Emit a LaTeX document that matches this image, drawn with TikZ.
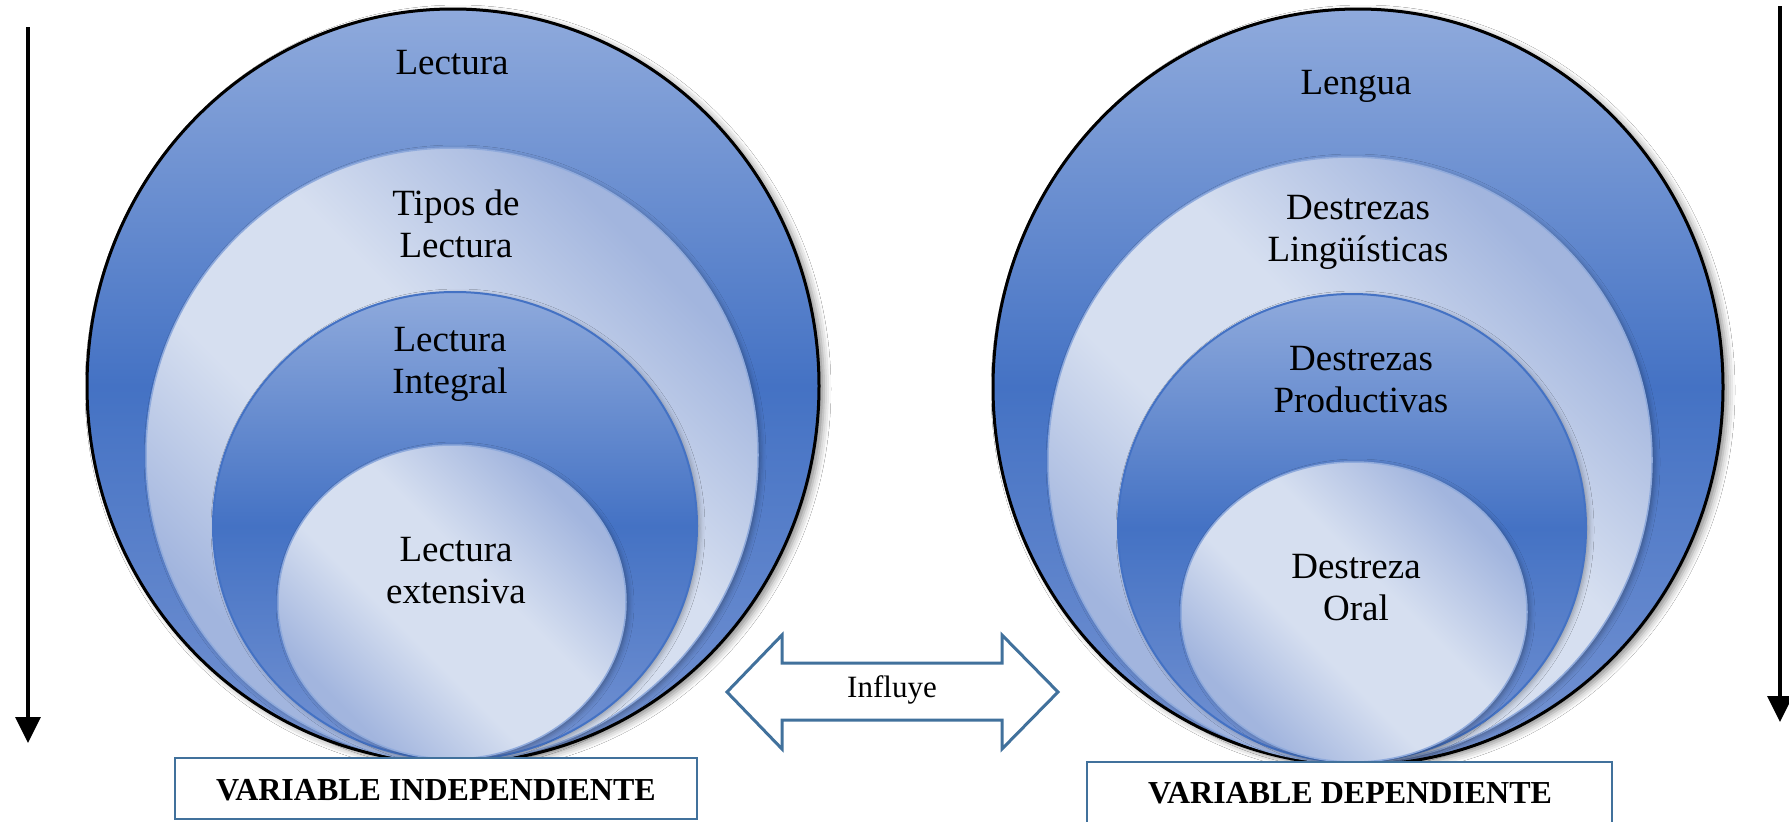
\documentclass[tikz,border=0pt]{standalone}
\usepackage{fontspec}
\setmainfont{Liberation Serif}
\usetikzlibrary{shapes.geometric,arrows.meta,shadows.blur}
\definecolor{dkblue}{HTML}{4472C4}
\definecolor{ltblue}{HTML}{8FAADC}
\definecolor{midblue}{HTML}{7593D2}
\definecolor{paleA}{HTML}{D6DFF0}
\definecolor{paleB}{HTML}{A2B5DE}
\definecolor{boxblue}{HTML}{41719C}
\pgfdeclareverticalshading{paleband}{100bp}{color(0bp)=(paleB); color(27bp)=(paleB); color(42bp)=(paleA); color(56bp)=(paleA); color(73bp)=(paleB); color(100bp)=(paleB)}
\begin{document}
\begin{tikzpicture}[x=1pt,y=-1pt,
  outerell/.style={ellipse, inner sep=0pt, draw=black, line width=3pt,
    top color=ltblue, bottom color=midblue, middle color=dkblue,
    blur shadow={shadow xshift=5pt, shadow yshift=-3pt, shadow blur radius=7pt, shadow opacity=45}},
  paleell/.style={ellipse, inner sep=0pt, draw=ltblue, line width=1.5pt,
    shade, shading=paleband, shading angle=-45,
    blur shadow={shadow xshift=3pt, shadow yshift=-2pt, shadow blur radius=5pt, shadow opacity=30}},
  midell/.style={ellipse, inner sep=0pt, draw=dkblue, line width=2pt,
    top color=ltblue, bottom color=midblue, middle color=dkblue,
    blur shadow={shadow xshift=3pt, shadow yshift=-2pt, shadow blur radius=5pt, shadow opacity=30}},
  innerell/.style={paleell},
  lbl/.style={align=center, font=\fontsize{37}{42}\selectfont, inner sep=0pt, text=black},
  varbox/.style={draw=boxblue, line width=2.5pt, fill=white},
  vartext/.style={font=\fontsize{32}{36}\selectfont\bfseries, inner sep=0pt},
  downarrow/.style={line width=3.5pt, -{Triangle[width=25pt,length=26pt]}},
  bigarrow/.style={draw=boxblue, line width=3pt, fill=white, line join=miter}
]
\useasboundingbox (0,0) rectangle (1789,822);
\fill[white] (0,0) rectangle (1789,822);

% left group
\node[outerell, minimum width=732pt, minimum height=754pt] (LO) at (453,386) {};
\node[paleell, minimum width=612pt, minimum height=614pt] (LT) at (452,455) {};
\node[midell, minimum width=484pt, minimum height=468pt] (LI) at (455,526) {};
\node[innerell, minimum width=348pt, minimum height=314pt] (LE) at (452,602) {};

% right group
\node[outerell, minimum width=730pt, minimum height=756pt] (RO) at (1358,387) {};
\node[paleell, minimum width=604pt, minimum height=606pt] (RT) at (1350,460) {};
\node[midell, minimum width=468pt, minimum height=468pt] (RI) at (1352,528) {};
\node[innerell, minimum width=346pt, minimum height=300pt] (RE) at (1354,612) {};

% labels
\node[lbl] (tLO) at (452,63) {Lectura};
\node[lbl] (tLT) at (456,224) {Tipos de\\Lectura};
\node[lbl] (tLI) at (450,364) {Lectura\\Integral};
\node[lbl] (tLE) at (456,571) {Lectura\\extensiva};
\node[lbl] (tRO) at (1356,86) {Lengua};
\node[lbl] (tRT) at (1358,232) {Destrezas\\Lingüísticas};
\node[lbl] (tRI) at (1361,380) {Destrezas\\Productivas};
\node[lbl] (tRE) at (1356,588) {Destreza\\Oral};

% boxes
\draw[varbox] (175,758) rectangle (697,819);
\node[vartext] (vi) at (436,790) {VARIABLE INDEPENDIENTE};
\draw[varbox] (1087,762) rectangle (1612,840);
\node[vartext] (vd) at (1350,793) {VARIABLE DEPENDIENTE};

% double arrow
\draw[bigarrow] (727,692) -- (782,635) -- (782,663) -- (1002,663) -- (1002,635)
  -- (1058,692) -- (1002,749) -- (1002,720) -- (782,720) -- (782,749) -- cycle;
\node[font=\fontsize{31}{35}\selectfont, inner sep=0pt] (inf) at (892,690) {Influye};

% side arrows
\coordinate (la1) at (28,27);
\coordinate (la2) at (28,743);
\coordinate (ra1) at (1780,6);
\coordinate (ra2) at (1780,722);
\draw[downarrow] (la1) -- (la2);
\draw[downarrow] (ra1) -- (ra2);
\end{tikzpicture}
\end{document}
